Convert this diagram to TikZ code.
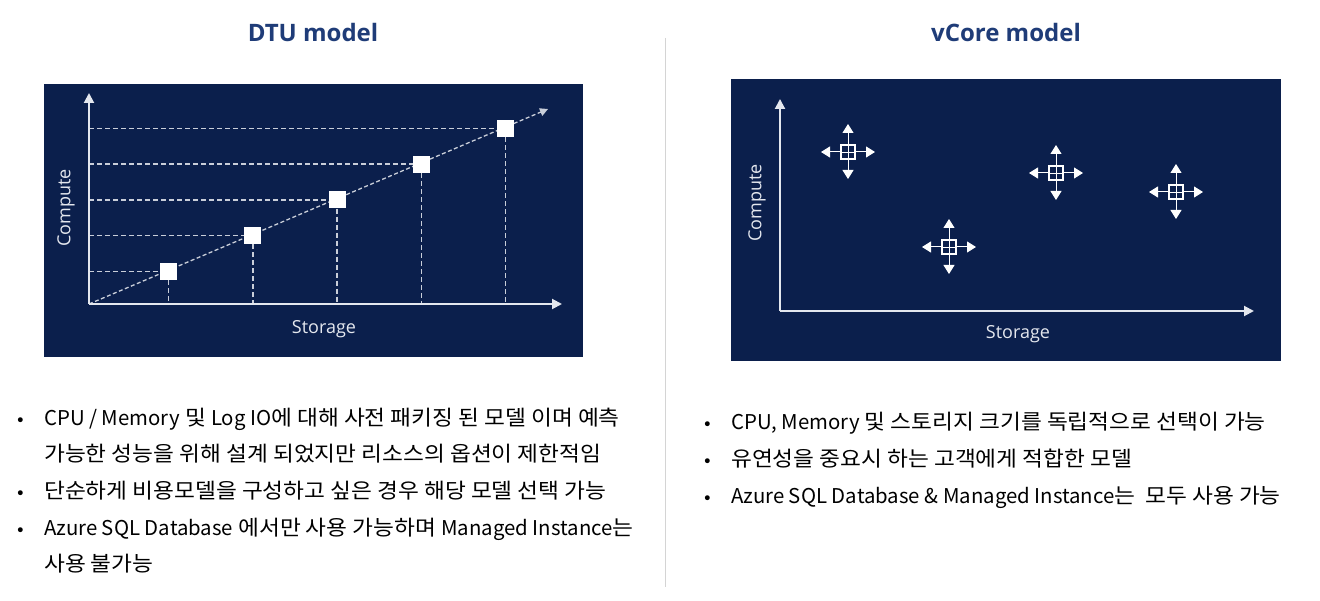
\documentclass[tikz,border=0pt]{standalone}
\usepackage{fontspec}
\setmainfont{Noto Sans CJK KR}[FakeStretch=1.08]
\newfontfamily\latfont{Noto Sans CJK KR}[Scale=0.97]
\newcommand\lat[1]{{\latfont #1}}
\newfontfamily\titlefont{Open Sans}
\newfontfamily\axisfont{Open Sans}
\usetikzlibrary{arrows.meta}
\definecolor{navy}{HTML}{0B1F4C}
\definecolor{titleblue}{HTML}{1F3C78}
\definecolor{axisgrey}{HTML}{E4E7EE}
\definecolor{dashgrey}{HTML}{C9CED9}
\definecolor{divider}{HTML}{D4D4D4}
\tikzset{
  panel/.style={fill=navy, draw=none},
  axis/.style={draw=axisgrey, line width=2pt, -{Triangle[length=10pt,width=10pt]}},
  guide/.style={draw=dashgrey, line width=1.5pt, dash pattern=on 5pt off 3pt},
  diag/.style={draw=dashgrey, line width=1.3pt, dash pattern=on 4pt off 2.5pt, -{Triangle[length=8pt,width=8pt]}},
  box/.style={fill=white, draw=none, minimum size=17pt, inner sep=0pt},
  title/.style={font=\titlefont\fontsize{24}{28}\selectfont\bfseries, text=titleblue, inner sep=0pt},
  axlabel/.style={font=\axisfont\fontsize{18}{21}\selectfont, text=axisgrey, inner sep=0pt},
  bodytext/.style={font=\fontsize{21}{25}\selectfont, text=black, anchor=base west, inner sep=0pt},
  bullet/.style={font=\fontsize{18}{22}\selectfont, text=black, anchor=base, inner sep=0pt},
  iconbox/.style={draw=white, line width=1.5pt, minimum size=14pt, inner sep=0pt},
  iconarrow/.style={draw=white, line width=1pt, -{Triangle[length=9pt,width=11pt]}}
}
\begin{document}
\begin{tikzpicture}[x=1pt,y=-1pt]
\useasboundingbox (0,0) rectangle (1320,601);
\fill[white] (0,0) rectangle (1320,601);

% titles
\node[title] (t1) at (313,33) {DTU model};
\node[title] (t2) at (1006,33) {vCore model};

% divider
\draw[divider, line width=1pt] (665,38) -- (665,587);

% ---------- DTU panel ----------
\fill[panel] (44,84) rectangle (583,357);
\coordinate (o1) at (89,304);
\coordinate (ytop1) at (89,93);
\coordinate (xend1) at (562,304);
\coordinate (dend1) at (548,109);
\draw[diag] (o1) -- (dend1);
\foreach \i in {0,...,4} {
  \pgfmathsetmacro{\bx}{168.5+84.25*\i}
  \pgfmathsetmacro{\by}{271.5-35.75*\i}
  \node[box] (s\i) at (\bx,\by) {};
  \coordinate (ya\i) at (89,\by);
  \coordinate (xa\i) at (\bx,304);
  \draw[guide] (ya\i) -- (s\i.west);
  \draw[guide] (s\i.south) -- (xa\i);
}
\draw[axis] (o1) -- (ytop1);
\draw[axis] (o1) -- (xend1);
\node[axlabel, rotate=90] (c1) at (66,208) {Compute};
\node[axlabel] (st1) at (324,329) {Storage};

% ---------- vCore panel ----------
\fill[panel] (731,79) rectangle (1281,361);
\coordinate (o2) at (780,311);
\coordinate (ytop2) at (780,99);
\coordinate (xend2) at (1254,311);
\draw[axis] (o2) -- (ytop2);
\draw[axis] (o2) -- (xend2);
\node[axlabel, rotate=90] (c2) at (757,203) {Compute};
\node[axlabel] (st2) at (1018,334) {Storage};

\foreach \n/\cx/\cy in {a/848/152, b/949/247, c/1056/173, d/1176/192} {
  \node[iconbox] (ic\n) at (\cx,\cy) {};
  \coordinate (icN\n) at (\cx,\cy-28);
  \coordinate (icS\n) at (\cx,\cy+27);
  \coordinate (icW\n) at (\cx-27,\cy);
  \coordinate (icE\n) at (\cx+27,\cy);
  \draw[white, line width=0.6pt] (ic\n.north) -- (ic\n.south);
  \draw[white, line width=0.6pt] (ic\n.west) -- (ic\n.east);
  \draw[iconarrow] (ic\n.north) -- (icN\n);
  \draw[iconarrow] (ic\n.south) -- (icS\n);
  \draw[iconarrow] (ic\n.west) -- (icW\n);
  \draw[iconarrow] (ic\n.east) -- (icE\n);
}

% ---------- left bullets ----------
\node[bullet] (b1) at (21,425) {•};
\node[bodytext] (l1) at (44,425) {\lat{CPU / Memory} 및 \lat{Log IO}에 대해 사전 패키징 된 모델 이며 예측};
\node[bodytext] (l1b) at (44,461) {가능한 성능을 위해 설계 되었지만 리소스의 옵션이 제한적임};
\node[bullet] (b2) at (21,498) {•};
\node[bodytext] (l2) at (44,498) {단순하게 비용모델을 구성하고 싶은 경우 해당 모델 선택 가능};
\node[bullet] (b3) at (21,535) {•};
\node[bodytext] (l3) at (44,535) {\lat{Azure SQL Database} 에서만 사용 가능하며 \lat{Managed Instance}는};
\node[bodytext] (l3b) at (44,571) {사용 불가능};

% ---------- right bullets ----------
\node[bullet] (r1b) at (708,429) {•};
\node[bodytext] (r1) at (731,429) {\lat{CPU, Memory} 및 스토리지 크기를 독립적으로 선택이 가능};
\node[bullet] (r2b) at (708,466) {•};
\node[bodytext] (r2) at (731,466) {유연성을 중요시 하는 고객에게 적합한 모델};
\node[bullet] (r3b) at (708,503) {•};
\node[bodytext] (r3) at (731,503) {\lat{Azure SQL Database \& Managed Instance}는~~모두 사용 가능};
\end{tikzpicture}
\end{document}
